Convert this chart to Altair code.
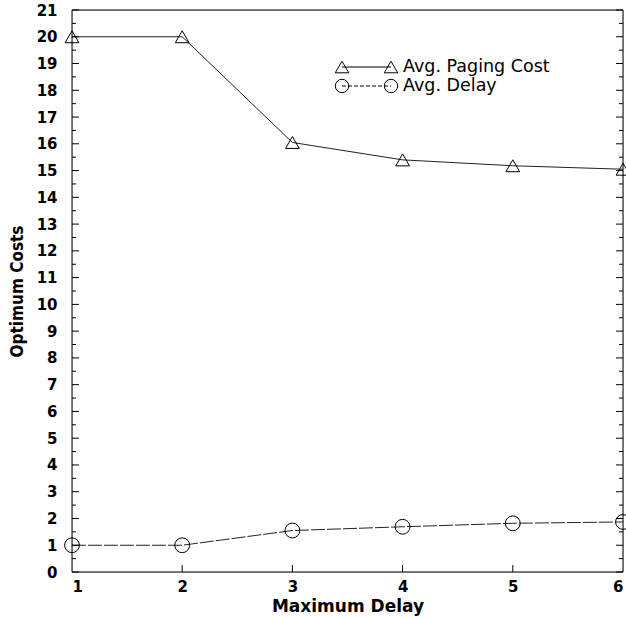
import altair as alt
import pandas as pd

delays = [1, 2, 3, 4, 5, 6]
paging_cost = [20.0, 20.0, 16.05, 15.4, 15.18, 15.05]
avg_delay = [1.0, 1.0, 1.55, 1.69, 1.82, 1.87]
series_names = ["Avg. Paging Cost", "Avg. Delay"]
y_ticks = list(range(0, 22))
y_minor = [v + 0.5 for v in range(0, 21)]
x_ticks = [2, 3, 4, 5]

W, H = 551, 562

df = pd.DataFrame({
    "delay": delays * 2,
    "value": paging_cost + avg_delay,
    "series": [series_names[0]] * 6 + [series_names[1]] * 6,
})
yt = pd.DataFrame({"value": y_ticks})
ym = pd.DataFrame({"value": y_minor})
xt = pd.DataFrame({"delay": x_ticks})

xs = alt.Scale(domain=[1, 6], nice=False, zero=False)
ys = alt.Scale(domain=[0, 21], nice=False)

X = alt.X("delay:Q", scale=xs, axis=alt.Axis(
    title="Maximum Delay", values=delays, format="d", grid=False, domain=False,
    ticks=False, labelPadding=7, labelFontSize=15, labelFontWeight="bold",
    titleFontSize=17, titleFontWeight="bold", titlePadding=4,
    labelFont="DejaVu Sans", titleFont="DejaVu Sans", labelColor="black", titleColor="black"))
Y = alt.Y("value:Q", scale=ys, axis=alt.Axis(
    title="Optimum Costs", values=y_ticks, grid=False, domain=False, ticks=False,
    labelPadding=15, labelFontSize=15, labelFontWeight="bold",
    titleFontSize=17, titleFontWeight="bold", titlePadding=10,
    labelFont="DejaVu Sans", titleFont="DejaVu Sans Condensed", labelColor="black", titleColor="black"))

paging = df[df.series == series_names[0]]
delay_df = df[df.series == series_names[1]]

line_p = alt.Chart(paging).mark_line(color="#222", strokeWidth=1).encode(x=X, y=Y)
line_d = alt.Chart(delay_df).mark_line(color="#222", strokeWidth=1, strokeDash=[14, 2]).encode(x=X, y=Y)
pts_p = alt.Chart(paging).mark_point(shape="triangle-up", size=190, filled=False, color="black", strokeWidth=1, opacity=1).encode(x=X, y=Y)
pts_d = alt.Chart(delay_df).mark_point(shape="circle", size=220, filled=False, color="black", strokeWidth=1, opacity=1).encode(x=X, y=Y)

frame = alt.Chart(pd.DataFrame({"name": ["frame"]})).mark_rect(fill=None, stroke="black", strokeWidth=1).encode(
    x=alt.value(0), x2=alt.value(W), y=alt.value(0), y2=alt.value(H))

tick_l = alt.Chart(yt).mark_rule(color="black", strokeWidth=1).encode(x=alt.value(0), x2=alt.value(7), y=Y)
tick_lm = alt.Chart(ym).mark_rule(color="black", strokeWidth=1).encode(x=alt.value(0), x2=alt.value(4), y=Y)
tick_r = alt.Chart(yt).mark_rule(color="black", strokeWidth=1).encode(x=alt.value(W), x2=alt.value(W - 7), y=Y)
tick_rm = alt.Chart(ym).mark_rule(color="black", strokeWidth=1).encode(x=alt.value(W), x2=alt.value(W - 4), y=Y)
tick_b = alt.Chart(xt).mark_rule(color="black", strokeWidth=1).encode(x=X, y=alt.value(H), y2=alt.value(H - 7))

# manual legend
lx0, lx1, ly0, dy = 270, 319, 57, 19
leg_p = pd.DataFrame({"name": [series_names[0]]})
leg_d = pd.DataFrame({"name": [series_names[1]]})
leg_line_p = alt.Chart(leg_p).mark_rule(color="black", strokeWidth=1).encode(
    x=alt.value(lx0), x2=alt.value(lx1), y=alt.value(ly0))
leg_line_d = alt.Chart(leg_d).mark_rule(color="black", strokeWidth=1, strokeDash=[4, 2]).encode(
    x=alt.value(lx0), x2=alt.value(lx1), y=alt.value(ly0 + dy))
leg_pts = []
for xx in (lx0, lx1):
    leg_pts.append(alt.Chart(leg_p).mark_point(shape="triangle-up", size=180, filled=False, color="black", strokeWidth=1, opacity=1).encode(
        x=alt.value(xx), y=alt.value(ly0)))
    leg_pts.append(alt.Chart(leg_d).mark_point(shape="circle", size=180, filled=False, color="black", strokeWidth=1, opacity=1).encode(
        x=alt.value(xx), y=alt.value(ly0 + dy)))
leg_text_p = alt.Chart(leg_p).mark_text(align="left", baseline="middle", fontSize=17.5, font="DejaVu Sans", color="black").encode(
    x=alt.value(lx1 + 12), y=alt.value(ly0), text="name:N")
leg_text_d = alt.Chart(leg_d).mark_text(align="left", baseline="middle", fontSize=17.5, font="DejaVu Sans", color="black").encode(
    x=alt.value(lx1 + 12), y=alt.value(ly0 + dy), text="name:N")

chart = alt.layer(
    frame, line_p, line_d, pts_p, pts_d, tick_l, tick_lm, tick_r, tick_rm, tick_b,
    leg_line_p, leg_line_d, *leg_pts, leg_text_p, leg_text_d
).properties(
    width=W, height=H,
    autosize=alt.AutoSizeParams(type="none"),
    padding={"left": 72, "top": 10, "right": 3, "bottom": 46},
).configure_view(stroke="black", strokeWidth=1).configure(background="white")

chart.save("out.html", embed_options={"renderer": "svg", "actions": False})
